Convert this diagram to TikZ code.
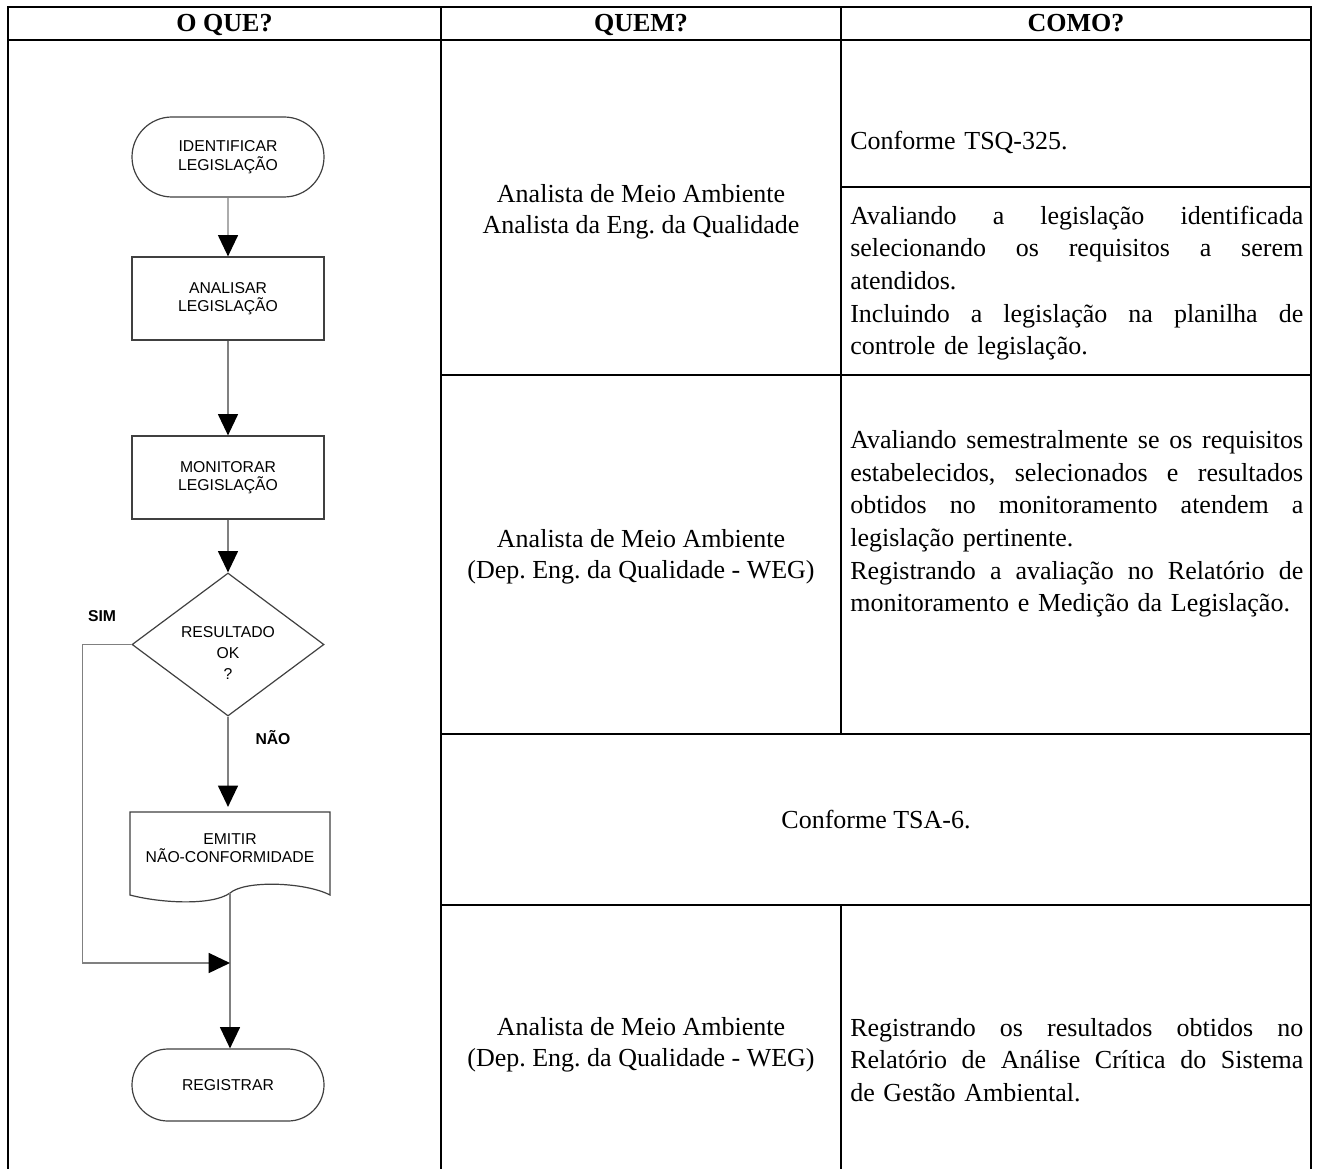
\documentclass[tikz,border=0pt]{standalone}
\usepackage{fontspec}
\setmainfont{Liberation Serif}
\newfontfamily\arialf{Liberation Sans}
\usetikzlibrary{shapes.geometric,shapes.misc,arrows.meta}
\newlength\colw
\setlength\colw{339.75pt}
\newcommand\jline[1]{\leavevmode\hbox to \colw{#1}}
\frenchspacing
\begin{document}
\begin{tikzpicture}[x=0.75pt,y=-0.75pt,
  tline/.style={line width=1.6pt, black, line cap=rect},
  thinline/.style={line width=1pt, black},
  ttext/.style={font=\fontsize{19.5}{23.5}\selectfont, inner sep=0pt, align=center},
  hdr/.style={font=\fontsize{19.5}{23}\selectfont\bfseries, inner sep=0pt, anchor=base},
  jtext/.style={font=\fontsize{19.5}{24.5}\selectfont, inner sep=0pt, text width=\colw, align=left},
  fshape/.style={draw=black!75, line width=0.9pt, font=\arialf\fontsize{11.8}{13.8}\selectfont, align=center, inner sep=0pt},
  fbox/.style={fshape, rectangle, minimum width=144pt, minimum height=62.25pt},
  fterm/.style={fshape, rounded rectangle, minimum width=144pt, minimum height=60pt},
  fdec/.style={fshape, diamond, aspect=1.34, minimum width=144pt, minimum height=107.25pt},
  ftext/.style={font=\arialf\fontsize{11.8}{15.8}\selectfont, align=center, inner sep=0pt},
  conn/.style={draw=black!50, line width=1.1pt},
  arr/.style={conn, -{Triangle[length=16pt,width=15pt,fill=black,color=black]}},
  flab/.style={font=\arialf\fontsize{11.8}{14}\selectfont\bfseries, inner sep=0pt}
]
\useasboundingbox (0,0) rectangle (1319,1169);
\fill[white] (0,0) rectangle (1319,1169);

% ---------- table ----------
\draw[tline] (8,7) -- (1311,7);
\draw[tline] (8,40) -- (1311,40);
\draw[tline] (8,7) -- (8,1169);
\draw[tline] (441,7) -- (441,1169);
\draw[tline] (1311,7) -- (1311,1169);
\draw[tline] (841,7) -- (841,375);
\draw[thinline] (841,375) -- (841,734);
\draw[thinline] (841,905) -- (841,1169);
\draw[tline] (841,187) -- (1311,187);
\draw[tline] (441,375) -- (1311,375);
\draw[tline] (441,734) -- (1311,734);
\draw[tline] (441,905) -- (1311,905);

\node[hdr] (h1) at (224.5,32) {O QUE?};
\node[hdr] (h2) at (641,32) {QUEM?};
\node[hdr] (h3) at (1076,32) {COMO?};

\node[ttext] (q1) at (641,212) {Analista de Meio Ambiente\\Analista da Eng. da Qualidade};
\node[ttext] (q2) at (641,557) {Analista de Meio Ambiente\\(Dep. Eng. da Qualidade - WEG)};
\node[ttext] (q4) at (641,1045) {Analista de Meio Ambiente\\(Dep. Eng. da Qualidade - WEG)};
\node[ttext] (c3) at (876,820) {Conforme TSA-6.};

\node[jtext, anchor=west] (c1a) at (850,142) {Conforme TSQ-325.};
\node[jtext, anchor=west] (c1b) at (850,283) {\jline{Avaliando \hfill a \hfill legislação \hfill identificada}\\
\jline{selecionando \hfill os \hfill requisitos \hfill a \hfill serem}\\
atendidos.\\
\jline{Incluindo \hfill a \hfill legislação \hfill na \hfill planilha \hfill de}\\
controle de legislação.};
\node[jtext, anchor=west] (c2) at (850,524) {\jline{Avaliando \hfill semestralmente \hfill se \hfill os \hfill requisitos}\\
\jline{estabelecidos, \hfill selecionados \hfill e \hfill resultados}\\
\jline{obtidos \hfill no \hfill monitoramento \hfill atendem \hfill a}\\
legislação pertinente.\\
\jline{Registrando \hfill a \hfill avaliação \hfill no \hfill Relatório \hfill de}\\
monitoramento e Medição da Legislação.};
\node[jtext, anchor=west] (c4) at (850,1060) {\jline{Registrando \hfill os \hfill resultados \hfill obtidos \hfill no}\\
\jline{Relatório \hfill de \hfill Análise \hfill Crítica \hfill do \hfill Sistema}\\
de Gestão Ambiental.};

% ---------- flowchart ----------
\node[fterm] (ident) at (228,157) {IDENTIFICAR\\LEGISLAÇÃO};
\node[fbox] (anal) at (228,298.5) {ANALISAR\\LEGISLAÇÃO};
\node[fbox] (moni) at (228,477.5) {MONITORAR\\LEGISLAÇÃO};
\node[fdec] (dec) at (228,644.5) {};
\node[ftext] (dectext) at (228,653) {RESULTADO\\OK\\?};
\node[fshape, draw=none, rectangle, minimum width=150pt, minimum height=60.75pt] (emit) at (230,848) {EMITIR\\NÃO-CONFORMIDADE};
\draw[draw=black!75, line width=0.9pt]
  (130,895) -- (130,812) -- (330,812) -- (330,895)
  .. controls (305,882) and (245,880) .. (230,893)
  .. controls (212,906) and (160,903) .. (130,895) -- cycle;
\coordinate (emitout) at (230,893);
\node[fterm, minimum height=54pt] (reg) at (228,1085) {REGISTRAR};
\coordinate (join) at (230,963);

\draw[arr] (ident) -- (anal);
\draw[arr] (anal) -- (moni);
\draw[arr] (moni) -- (dec);
\draw[arr] (dec.south) -- (dec.south |- emit.north);
\draw[arr] (emitout) -- (emitout |- reg.north);
\draw[arr] (dec.west) -- ++(-49,0) |- (join);

\node[flab] (sim) at (102,616) {SIM};
\node[flab] (nao) at (273,738) {NÃO};
\end{tikzpicture}
\end{document}
